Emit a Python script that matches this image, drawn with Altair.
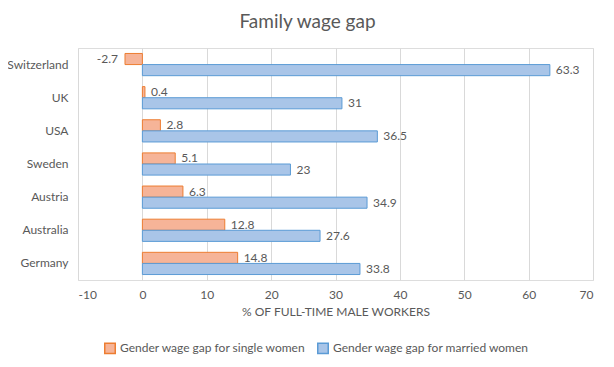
import altair as alt
import pandas as pd

countries = ["Switzerland", "UK", "USA", "Sweden", "Austria", "Australia", "Germany"]
single = [-2.7, 0.4, 2.8, 5.1, 6.3, 12.8, 14.8]
married = [63.3, 31, 36.5, 23, 34.9, 27.6, 33.8]
series = ["Gender wage gap for single women", "Gender wage gap for married women"]
x_ticks = [-10, 0, 10, 20, 30, 40, 50, 60, 70]

rows = []
for c, s, m in zip(countries, single, married):
    rows.append({"country": c, "series": series[0], "value": s})
    rows.append({"country": c, "series": series[1], "value": m})
df = pd.DataFrame(rows)

FONT = "Lato"
GRAY = "#595959"

y = alt.Y("country:N", sort=countries, title=None,
          scale=alt.Scale(paddingInner=0.33, paddingOuter=0.165),
          axis=alt.Axis(domain=False, ticks=False, labelPadding=10, labelFontSize=12,
                        labelColor=GRAY, labelFont=FONT))
yoff = alt.YOffset("series:N", sort=series, scale=alt.Scale(domain=series, padding=0))
x = alt.X("value:Q", title="% OF FULL-TIME MALE WORKERS",
          scale=alt.Scale(domain=[-10, 70], nice=False),
          axis=alt.Axis(values=x_ticks, domain=False, ticks=False, grid=True,
                        gridColor="#D9D9D9", labelPadding=9, labelFontSize=12,
                        labelExpr="'' + datum.value",
                        labelColor=GRAY, labelFont=FONT, titleFont=FONT,
                        titleFontSize=12, titleColor=GRAY, titleFontWeight="normal",
                        titlePadding=6))

legend_kw = dict(title=None, orient="none", legendX=26, legendY=294,
                 direction="horizontal", columns=2, columnPadding=8,
                 symbolType="square", symbolSize=110, labelFont=FONT,
                 labelFontSize=12, labelColor=GRAY, labelLimit=0)

bars = alt.Chart(df).mark_bar(strokeWidth=1).encode(
    x=x, y=y, yOffset=yoff,
    fill=alt.Fill("series:N", sort=series,
                  scale=alt.Scale(domain=series, range=["#F6B498", "#A9C5E8"]),
                  legend=alt.Legend(**legend_kw)),
    stroke=alt.Stroke("series:N", sort=series,
                      scale=alt.Scale(domain=series, range=["#ED7D31", "#5B9BD5"]),
                      legend=alt.Legend(**legend_kw)),
)

base = alt.Chart(df).transform_calculate(label="'' + datum.value")

pos_labels = base.transform_filter("datum.value >= 0").mark_text(
    align="left", baseline="middle", dx=6, font=FONT, fontSize=12, color=GRAY
).encode(x="value:Q", y=alt.Y("country:N", sort=countries), yOffset=yoff,
         text="label:N")

neg_labels = base.transform_filter("datum.value < 0").mark_text(
    align="right", baseline="middle", dx=-7, font=FONT, fontSize=12, color=GRAY
).encode(x="value:Q", y=alt.Y("country:N", sort=countries), yOffset=yoff,
         text="label:N")

chart = (bars + pos_labels + neg_labels).properties(
    width=515, height=232,
    autosize=alt.AutoSizeParams(type="none"),
    padding={"left": 70, "top": 40, "right": 13, "bottom": 79},
    title=alt.TitleParams("Family wage gap", font=FONT, fontSize=19, fontWeight="normal",
                          color=GRAY, anchor="middle", dx=-28, offset=16),
).configure_view(stroke=None).configure(background="white")

chart.save("out.html", embed_options={"renderer": "svg", "actions": False})
